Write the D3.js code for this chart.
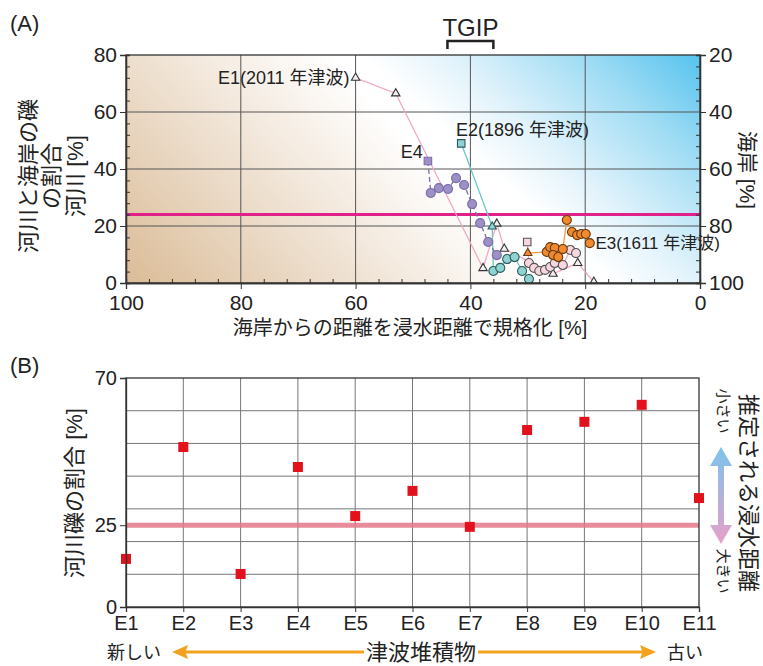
<!DOCTYPE html>
<html>
<head>
<meta charset="utf-8">
<script src="https://cdn.jsdelivr.net/npm/d3@7"></script>
<style>
  body { margin: 0; background: #fff; }
  text { font-family: "Liberation Sans", "Noto Sans CJK JP", sans-serif; fill: #222; }
</style>
</head>
<body>
<div id="chart"></div>
<script>
// ---- data, panel A (x = normalised distance %, y = river gravel %) ----
const e1Points = [[60, 72], [53, 66.5], [37.8, 5.2], [35.4, 20.8], [34.1, 12], [25.6, 3.2], [21.3, 7], [18.5, 0.4]]
const e2Points = [[41.6, 49], [36.2, 19.8], [36, 4.2], [34.8, 5.3], [33.6, 8.4], [32.3, 9.1], [31, 4.2], [29.8, 1.4]]
const e2Shapes = ["square", "triangle", "circle", "circle", "circle", "circle", "circle", "circle"]
const e4Points = [[47.4, 42.8], [46.9, 31.6], [45.5, 33.3], [43.9, 33], [42.5, 36.8], [41.1, 34.4], [39.7, 27.7], [38.3, 21], [36.9, 14.4], [35.4, 9.8]]
const e4Shapes = ["square", "circle", "circle", "circle", "circle", "circle", "circle", "circle", "circle", "circle"]
const pinkPoints = [[30.1, 14.4], [29.8, 7], [28.9, 5.3], [28, 4.2], [27, 4.6], [26.1, 5.6], [25.3, 7], [23.9, 6.3], [22.6, 11.6], [21.6, 10.5]]
const pinkShapes = ["square", "circle", "circle", "circle", "circle", "circle", "circle", "circle", "circle", "circle"]
const e3Points = [[30, 10.5], [26.7, 10.9], [26.1, 12.6], [25.3, 12.3], [25.6, 9.8], [24.7, 9.1], [23.9, 11.9], [23.2, 22.1], [22.3, 17.9], [21.4, 16.8], [20.7, 17.2], [19.9, 17.2], [19.2, 14]]
const e3Shapes = ["triangle", "circle", "circle", "circle", "circle", "circle", "circle", "circle", "circle", "circle", "circle", "circle", "circle"]
const thresholdA = 24
const xTicksA = [100, 80, 60, 40, 20, 0]
const yTicksA = [0, 20, 40, 60, 80]
const yTicksRight = [20, 40, 60, 80, 100]
const tgipRange = [44, 36]

// ---- data, panel B ----
const events = ["E1", "E2", "E3", "E4", "E5", "E6", "E7", "E8", "E9", "E10", "E11"]
const riverShare = [14.7, 48.9, 10.1, 42.8, 27.8, 35.5, 24.5, 54.1, 56.6, 61.8, 33.3]
const thresholdB = 25
const yTicksB = [0, 25, 70]

const svg = d3.select("#chart").append("svg")
    .attr("width", 763)
    .attr("height", 666)

const defs = svg.append("defs")

// ================= Panel A =================
const xA = d3.scaleLinear().domain([100, 0]).range([126, 700])
const yA = d3.scaleLinear().domain([0, 80]).range([283, 55])
const yR = d3.scaleLinear().domain([100, 20]).range([283, 55])

// background gradients
const brown = defs.append("linearGradient")
    .attr("id", "brownGrad")
    .attr("gradientUnits", "userSpaceOnUse")
    .attr("x1", 126).attr("y1", 283).attr("x2", 362).attr("y2", 63)
brown.selectAll("stop")
    .data([[0, "#dbbc97"], [0.35, "#e8d5bf"], [0.7, "#f6eee5"], [0.95, "#ffffff"]])
    .join("stop")
        .attr("offset", d => d[0])
        .attr("stop-color", d => d[1])

const blue = defs.append("linearGradient")
    .attr("id", "blueGrad")
    .attr("gradientUnits", "userSpaceOnUse")
    .attr("x1", 612).attr("y1", 283).attr("x2", 765).attr("y2", 115)
blue.selectAll("stop")
    .data([[0, "#ffffff"], [0.25, "#e2f3fb"], [0.65, "#9fdcf4"], [1, "#56c3ee"]])
    .join("stop")
        .attr("offset", d => d[0])
        .attr("stop-color", d => d[1])

defs.append("clipPath").attr("id", "clipA")
    .append("rect")
        .attr("x", xA(100)).attr("y", yA(80))
        .attr("width", xA(0) - xA(100)).attr("height", yA(0) - yA(80))

const plotA = svg.append("g").attr("clip-path", "url(#clipA)")

plotA.append("rect")
    .attr("x", xA(100)).attr("y", yA(80))
    .attr("width", xA(0) - xA(100)).attr("height", yA(0) - yA(80))
    .attr("fill", "url(#brownGrad)")

plotA.append("polygon")
    .attr("points", [[xA(59), yA(80)], [xA(0), yA(80)], [xA(0), yA(0)], [xA(15), yA(0)]].join(" "))
    .attr("fill", "url(#blueGrad)")

// grid
plotA.append("g")
    .selectAll("line")
    .data([80, 60, 40, 20])
    .join("line")
        .attr("x1", d => xA(d)).attr("x2", d => xA(d))
        .attr("y1", yA(0)).attr("y2", yA(80))
        .attr("stroke", "#555").attr("stroke-width", 1)
plotA.append("g")
    .selectAll("line")
    .data([20, 40, 60])
    .join("line")
        .attr("x1", xA(100)).attr("x2", xA(0))
        .attr("y1", d => yA(d)).attr("y2", d => yA(d))
        .attr("stroke", "#555").attr("stroke-width", 1)

// threshold line
plotA.append("line")
    .attr("x1", xA(100)).attr("x2", xA(0))
    .attr("y1", yA(thresholdA)).attr("y2", yA(thresholdA))
    .attr("stroke", "#e0218a").attr("stroke-width", 3)

const lineA = d3.line().x(d => xA(d[0])).y(d => yA(d[1]))

const seriesA = [
    { pts: e1Points, shapes: e1Points.map(() => "triangle"), line: "#f2a9c4", dash: null, fill: "#f4f0f2", stroke: "#333" },
    { pts: pinkPoints, shapes: pinkShapes, line: "#f2b0bc", dash: null, fill: "#f6d6df", stroke: "#555" },
    { pts: e2Points, shapes: e2Shapes, line: "#6cc7c9", dash: null, fill: "#8fd3d2", stroke: "#2b5a5c" },
    { pts: e4Points, shapes: e4Shapes, line: "#7b6cab", dash: "5,3", fill: "#9d90c4", stroke: "#7b6cab" },
    { pts: e3Points, shapes: e3Shapes, line: "#f29a45", dash: null, fill: "#f08a2c", stroke: "#6b3a10" },
]

seriesA.forEach(s => {
    plotA.append("path")
        .attr("d", lineA(s.pts))
        .attr("fill", "none")
        .attr("stroke", s.line)
        .attr("stroke-width", 1.3)
        .attr("stroke-dasharray", s.dash)
})

const symbolOf = {
    circle: d3.symbol(d3.symbolCircle, 64),
    square: d3.symbol(d3.symbolSquare, 56),
    triangle: d3.symbol(d3.symbolTriangle, 30),
}

seriesA.forEach(s => {
    plotA.append("g")
        .selectAll("path")
        .data(s.pts)
        .join("path")
            .attr("d", (d, i) => symbolOf[s.shapes[i]]())
            .attr("transform", d => `translate(${xA(d[0])},${yA(d[1])})`)
            .attr("fill", s.fill)
            .attr("stroke", s.stroke)
            .attr("stroke-width", 1.1)
})

// frame
svg.append("rect")
    .attr("x", xA(100)).attr("y", yA(80))
    .attr("width", xA(0) - xA(100)).attr("height", yA(0) - yA(80))
    .attr("fill", "none").attr("stroke", "#333").attr("stroke-width", 1.3)

// axes
const minorX = d3.range(0, 101, 4).filter(d => d % 20 !== 0)
const minorY = d3.range(0, 81, 4).filter(d => d % 20 !== 0)

const xAxisA = svg.append("g")
    .attr("transform", `translate(0,${yA(0)})`)
    .call(d3.axisBottom(xA).tickValues(xTicksA).tickSize(6).tickPadding(3))
xAxisA.append("g")
    .call(d3.axisTop(xA).tickValues(minorX).tickSize(4).tickFormat(""))

const yAxisA = svg.append("g")
    .attr("transform", `translate(${xA(100)},0)`)
    .call(d3.axisLeft(yA).tickValues(yTicksA).tickSize(6).tickPadding(3))
yAxisA.append("g")
    .call(d3.axisRight(yA).tickValues(minorY).tickSize(4).tickFormat(""))

const yAxisR = svg.append("g")
    .attr("transform", `translate(${xA(0)},0)`)
    .call(d3.axisRight(yR).tickValues(yTicksRight).tickSize(6).tickPadding(3))
yAxisR.append("g")
    .call(d3.axisLeft(yR).tickValues(minorY.map(d => 100 - d)).tickSize(4).tickFormat(""))

svg.selectAll(".domain").attr("stroke", "#333").attr("stroke-width", 1.3)
svg.selectAll(".tick line").attr("stroke", "#333")
;[xAxisA, yAxisA, yAxisR].forEach(a => a.selectAll(".tick text")
    .style("font-size", "21px").attr("fill", "#222"))
xAxisA.selectAll(".tick text").attr("dy", "0.85em")

// labels panel A
svg.append("text").attr("x", 10).attr("y", 31).style("font-size", "22px").text("(A)")

const leftLabel = [["河川と海岸の礫", 28], ["の割合", 51], ["河川 [%]", 75]]
leftLabel.forEach(([t, x]) => {
    svg.append("text")
        .attr("transform", `translate(${x},176) rotate(-90)`)
        .attr("text-anchor", "middle")
        .attr("dominant-baseline", "central")
        .style("font-size", "22px")
        .text(t)
})

svg.append("text")
    .attr("transform", "translate(747,170) rotate(90)")
    .attr("text-anchor", "middle")
    .attr("dominant-baseline", "central")
    .style("font-size", "21px")
    .text("海岸 [%]")

svg.append("text")
    .attr("x", 410).attr("y", 335)
    .attr("text-anchor", "middle")
    .style("font-size", "20px")
    .text("海岸からの距離を浸水距離で規格化 [%]")

const annotations = [
    ["E1(2011 年津波)", xA(60) - 6, yA(72) + 6, "end", 18],
    ["E2(1896 年津波)", xA(42.5), yA(51.5), "start", 18],
    ["E4", xA(48.3), yA(44), "end", 18],
    ["E3(1611 年津波)", xA(18.2), yA(12), "start", 17],
]
annotations.forEach(([t, x, y, anchor, size]) => {
    svg.append("text")
        .attr("x", x).attr("y", y)
        .attr("text-anchor", anchor)
        .style("font-size", `${size}px`)
        .text(t)
})

// TGIP bracket
svg.append("text")
    .attr("x", (xA(tgipRange[0]) + xA(tgipRange[1])) / 2).attr("y", 36)
    .attr("text-anchor", "middle")
    .style("font-size", "24px")
    .text("TGIP")
svg.append("path")
    .attr("d", `M${xA(tgipRange[0])},49 V41 H${xA(tgipRange[1])} V49`)
    .attr("fill", "none").attr("stroke", "#222").attr("stroke-width", 2.5)

// ================= Panel B =================
const xB = d3.scalePoint().domain(events).range([126, 699])
const yB = d3.scaleLinear().domain([0, 70]).range([607, 378])

const plotB = svg.append("g")

plotB.append("g")
    .selectAll("line")
    .data(d3.range(10, 70, 10))
    .join("line")
        .attr("x1", xB("E1")).attr("x2", xB("E11"))
        .attr("y1", d => yB(d)).attr("y2", d => yB(d))
        .attr("stroke", "#777").attr("stroke-width", 1)
plotB.append("g")
    .selectAll("line")
    .data(events.slice(1, -1))
    .join("line")
        .attr("x1", d => xB(d)).attr("x2", d => xB(d))
        .attr("y1", yB(0)).attr("y2", yB(70))
        .attr("stroke", "#777").attr("stroke-width", 1)

plotB.append("line")
    .attr("x1", xB("E1")).attr("x2", xB("E11"))
    .attr("y1", yB(thresholdB)).attr("y2", yB(thresholdB))
    .attr("stroke", "#e4798a").attr("stroke-width", 5).attr("opacity", 0.85)

plotB.append("rect")
    .attr("x", xB("E1")).attr("y", yB(70))
    .attr("width", xB("E11") - xB("E1")).attr("height", yB(0) - yB(70))
    .attr("fill", "none").attr("stroke", "#333").attr("stroke-width", 1.3)

const xAxisB = svg.append("g")
    .attr("transform", `translate(0,${yB(0)})`)
    .call(d3.axisBottom(xB).tickSize(5).tickPadding(2))
const yAxisB = svg.append("g")
    .attr("transform", `translate(${xB("E1")},0)`)
    .call(d3.axisLeft(yB).tickValues(yTicksB).tickSize(6).tickPadding(3))
;[xAxisB, yAxisB].forEach(a => {
    a.select(".domain").attr("stroke", "#333").attr("stroke-width", 1.3)
    a.selectAll(".tick line").attr("stroke", "#333")
    a.selectAll(".tick text").style("font-size", "20px").attr("fill", "#222")
})
xAxisB.selectAll(".tick text").attr("dy", "0.8em")

plotB.append("g")
    .selectAll("rect")
    .data(riverShare)
    .join("rect")
        .attr("x", (d, i) => xB(events[i]) - 5)
        .attr("y", d => yB(d) - 5)
        .attr("width", 10).attr("height", 10)
        .attr("fill", "#e3111b")

svg.append("text").attr("x", 10).attr("y", 373).style("font-size", "22px").text("(B)")

svg.append("text")
    .attr("transform", "translate(74,493) rotate(-90)")
    .attr("text-anchor", "middle")
    .attr("dominant-baseline", "central")
    .style("font-size", "22px")
    .text("河川礫の割合 [%]")

svg.append("text")
    .attr("transform", "translate(748,493) rotate(90)")
    .attr("text-anchor", "middle")
    .attr("dominant-baseline", "central")
    .style("font-size", "22px")
    .text("推定される浸水距離")

;[["小さい", 411], ["大きい", 571]].forEach(([t, y]) => {
    svg.append("text")
        .attr("transform", `translate(723,${y}) rotate(90)`)
        .attr("text-anchor", "middle")
        .attr("dominant-baseline", "central")
        .style("font-size", "15px")
        .text(t)
})

// double arrow on the right
const arrowGrad = defs.append("linearGradient")
    .attr("id", "arrowGrad")
    .attr("x1", 0).attr("y1", 0).attr("x2", 0).attr("y2", 1)
arrowGrad.append("stop").attr("offset", 0).attr("stop-color", "#7cc4ec")
arrowGrad.append("stop").attr("offset", 1).attr("stop-color", "#e7a0c8")
svg.append("path")
    .attr("d", "M721,447 L732,466 L724,466 L724,525 L732,525 L721,544 L710,525 L718,525 L718,466 L710,466 Z")
    .attr("fill", "url(#arrowGrad)")

// orange arrows along the bottom
svg.append("text").attr("x", 134).attr("y", 659).attr("text-anchor", "middle").style("font-size", "18px").text("新しい")
svg.append("text").attr("x", 421).attr("y", 660).attr("text-anchor", "middle").style("font-size", "22px").text("津波堆積物")
svg.append("text").attr("x", 667).attr("y", 659).attr("text-anchor", "start").style("font-size", "18px").text("古い")
svg.append("path")
    .attr("d", "M172,652 L188,645 L186,650.5 L364,650.5 L364,653.5 L186,653.5 L188,659 Z")
    .attr("fill", "#f3a21f")
svg.append("path")
    .attr("d", "M656,652 L640,645 L642,650.5 L478,650.5 L478,653.5 L642,653.5 L640,659 Z")
    .attr("fill", "#f3a21f")
</script>
</body>
</html>
